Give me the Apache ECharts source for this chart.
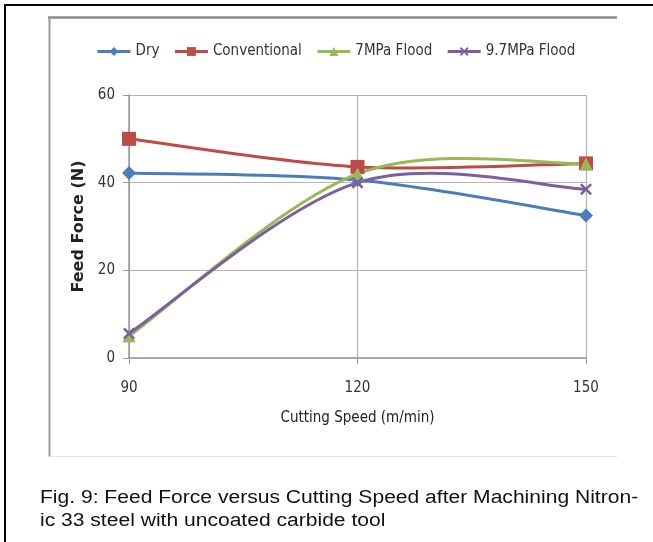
<!DOCTYPE html>
<html>
<head>
<meta charset="utf-8">
<script src="https://cdn.jsdelivr.net/npm/echarts@6/dist/echarts.min.js"></script>
<style>html,body{margin:0;padding:0;background:#fff;}#c{width:653px;height:542px;}</style>
</head>
<body>
<div id="c"></div>
<script>
var speeds = [90, 120, 150];
var dry = [42.2, 40.6, 32.5];
var conventional = [50.0, 43.6, 44.4];
var flood7 = [5.0, 42.0, 44.3];
var flood97 = [5.6, 40.0, 38.5];
var seriesNames = ['Dry', 'Conventional', '7MPa Flood', '9.7MPa Flood'];
var yTicks = [0, 20, 40, 60];
var caption1 = 'Fig. 9: Feed Force versus Cutting Speed after Machining Nitron-';
var caption2 = 'ic 33 steel with uncoated carbide tool';

var narrow = "'Liberation Sans Narrow', 'DejaVu Sans Condensed', sans-serif";
function pairs(v){ return speeds.map(function(s,i){ return [s, v[i]]; }); }
var xPath = 'path://M0,1.5L1.5,0L5,3.5L8.5,0L10,1.5L6.5,5L10,8.5L8.5,10L5,6.5L1.5,10L0,8.5L3.5,5Z';

// Excel-style smoothed curve (Catmull-Rom, tension 1/6) through the points, positioned by the axis scales
function curve(name, vals, color){
  return {
    name: name + ' curve', type: 'custom', coordinateSystem: 'cartesian2d',
    data: pairs(vals), encode: {x: 0, y: 1}, clip: false, z: 2, silent: true,
    renderItem: function(params, api){
      if (params.dataIndex !== 0) return null;
      var p = speeds.map(function(s,i){ return api.coord([s, vals[i]]); });
      var n = p.length, d = 'M' + p[0][0] + ',' + p[0][1];
      for (var i = 0; i < n - 1; i++) {
        var p0 = p[Math.max(i-1,0)], p1 = p[i], p2 = p[i+1], p3 = p[Math.min(i+2,n-1)];
        var c1 = [p1[0] + (p2[0]-p0[0])/6, p1[1] + (p2[1]-p0[1])/6];
        var c2 = [p2[0] - (p3[0]-p1[0])/6, p2[1] - (p3[1]-p1[1])/6];
        d += 'C' + c1[0] + ',' + c1[1] + ',' + c2[0] + ',' + c2[1] + ',' + p2[0] + ',' + p2[1];
      }
      return {type: 'path', shape: {pathData: d}, style: {stroke: color, lineWidth: 3, fill: null, lineJoin: 'round'}};
    }
  };
}
function marks(name, data, color, symbol, size){
  return {
    name: name, type: 'line', data: pairs(data),
    symbol: symbol, symbolSize: size, showSymbol: true,
    lineStyle: {color: color, width: 3, opacity: 0},
    itemStyle: {color: color},
    z: 3
  };
}
var chart = echarts.init(document.getElementById('c'), null, {renderer:'canvas'});
chart.setOption({
  animation: false,
  backgroundColor: '#fff',
  color: ['#4A7EBB', '#BE4B48', '#98B954', '#7D5FA0'],
  legend: {
    left: 91, top: 39, itemWidth: 33, itemHeight: 11, itemGap: 14,
    lineStyle: {width: 3, opacity: 1},
    textStyle: {fontFamily: narrow, fontSize: 15, color: '#333'},
    data: seriesNames
  },
  grid: {left: 129, right: 67, top: 95, bottom: 184},
  xAxis: {
    type: 'value', min: 90, max: 150, interval: 30,
    name: 'Cutting Speed (m/min)', nameLocation: 'middle', nameGap: 53,
    nameTextStyle: {fontFamily: narrow, fontSize: 15, color: '#222'},
    axisLine: {show: true, lineStyle: {color: '#999', width: 1.5}},
    axisTick: {show: true, length: 6, lineStyle: {color: '#999'}},
    axisLabel: {margin: 23, fontFamily: narrow, fontSize: 15, color: '#333',
      formatter: function(v){ return speeds.indexOf(v) >= 0 ? String(v) : ''; }},
    splitLine: {show: true, lineStyle: {color: '#b4b4b4', width: 1.2}}
  },
  yAxis: {
    type: 'value', min: 0, max: 60, interval: 20,
    name: 'Feed Force (N)', nameLocation: 'middle', nameGap: 42,
    nameTextStyle: {fontFamily: "'DejaVu Sans', sans-serif", fontWeight: 'bold', fontSize: 16, color: '#222'},
    axisLine: {show: true, lineStyle: {color: '#999', width: 1.5}},
    axisTick: {show: true, length: 6, lineStyle: {color: '#999'}},
    axisLabel: {margin: 14, fontFamily: narrow, fontSize: 15, color: '#333',
      formatter: function(v){ return yTicks.indexOf(v) >= 0 ? String(v) : ''; }},
    splitLine: {show: true, lineStyle: {color: '#b4b4b4', width: 1.2}}
  },
  series: [
    curve(seriesNames[0], dry, '#4A7EBB'),
    curve(seriesNames[1], conventional, '#BE4B48'),
    curve(seriesNames[2], flood7, '#98B954'),
    curve(seriesNames[3], flood97, '#7D5FA0'),
    marks(seriesNames[0], dry, '#4A7EBB', 'diamond', 14),
    marks(seriesNames[1], conventional, '#BE4B48', 'rect', 14),
    marks(seriesNames[2], flood7, '#98B954', 'triangle', 13),
    marks(seriesNames[3], flood97, '#7D5FA0', xPath, 12)
  ],
  graphic: [
    {type: 'line', shape: {x1: 4, y1: 5, x2: 653, y2: 5}, style: {stroke: '#000', lineWidth: 2}, silent: true},
    {type: 'line', shape: {x1: 5, y1: 4, x2: 5, y2: 542}, style: {stroke: '#000', lineWidth: 2}, silent: true},
    {type: 'line', shape: {x1: 48, y1: 17.5, x2: 617, y2: 17.5}, style: {stroke: '#8a8a8a', lineWidth: 2.5}, silent: true},
    {type: 'line', shape: {x1: 49.5, y1: 17, x2: 49.5, y2: 457}, style: {stroke: '#9a9a9a', lineWidth: 2}, silent: true},
    {type: 'line', shape: {x1: 49, y1: 456.5, x2: 617, y2: 456.5}, style: {stroke: '#e4e4e4', lineWidth: 1}, silent: true},
    {type: 'text', x: 40, y: 489, scaleX: 1.17, style: {text: caption1, font: '18px "Liberation Sans", Arial, sans-serif', fill: '#111'}, silent: true},
    {type: 'text', x: 40, y: 512, scaleX: 1.17, style: {text: caption2, font: '18px "Liberation Sans", Arial, sans-serif', fill: '#111'}, silent: true}
  ]
});
</script>
</body>
</html>
